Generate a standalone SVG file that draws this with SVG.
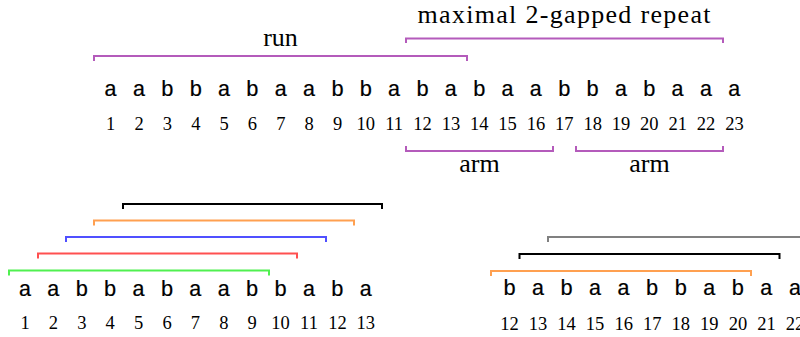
<svg xmlns="http://www.w3.org/2000/svg" width="800" height="337" viewBox="0 0 800 337">
<style>
.ch{font-family:"Liberation Mono","DejaVu Sans Mono",monospace;font-size:22px;fill:#000;stroke:#000;stroke-width:0.2;text-anchor:middle}
.nm{font-family:"Liberation Serif","DejaVu Serif",serif;font-size:18.5px;fill:#000;text-anchor:middle}
.lb{font-family:"Liberation Serif","DejaVu Serif",serif;font-size:26px;fill:#000;text-anchor:middle}
.br{fill:none;stroke-width:2}
.pu{stroke:#b45bbb}
</style>
<rect width="800" height="337" fill="#fff"/>
<g id="top-string">
<text class="ch" y="96"><tspan x="110.7">a</tspan><tspan x="139.05">a</tspan><tspan x="167.4">b</tspan><tspan x="195.75">b</tspan><tspan x="224.1">a</tspan><tspan x="252.45">b</tspan><tspan x="280.8">a</tspan><tspan x="309.15">a</tspan><tspan x="337.5">b</tspan><tspan x="365.85">b</tspan><tspan x="394.2">a</tspan><tspan x="422.55">b</tspan><tspan x="450.9">a</tspan><tspan x="479.25">b</tspan><tspan x="507.6">a</tspan><tspan x="535.95">a</tspan><tspan x="564.3">b</tspan><tspan x="592.65">b</tspan><tspan x="621">a</tspan><tspan x="649.35">b</tspan><tspan x="677.7">a</tspan><tspan x="706.05">a</tspan><tspan x="734.4">a</tspan></text>
<text class="nm" y="129.5"><tspan x="110.7">1</tspan><tspan x="139.05">2</tspan><tspan x="167.4">3</tspan><tspan x="195.75">4</tspan><tspan x="224.1">5</tspan><tspan x="252.45">6</tspan><tspan x="280.8">7</tspan><tspan x="309.15">8</tspan><tspan x="337.5">9</tspan><tspan x="365.85">10</tspan><tspan x="394.2">11</tspan><tspan x="422.55">12</tspan><tspan x="450.9">13</tspan><tspan x="479.25">14</tspan><tspan x="507.6">15</tspan><tspan x="535.95">16</tspan><tspan x="564.3">17</tspan><tspan x="592.65">18</tspan><tspan x="621">19</tspan><tspan x="649.35">20</tspan><tspan x="677.7">21</tspan><tspan x="706.05">22</tspan><tspan x="734.4">23</tspan></text>
</g>
<g id="run">
<path class="br pu" d="M94,61V56H467V61"/>
<text class="lb" x="280.5" y="46">run</text>
</g>
<g id="repeat">
<path class="br pu" d="M406,43V38.5H723V43"/>
<text class="lb" x="564" y="23" textLength="293" lengthAdjust="spacing">maximal 2-gapped repeat</text>
</g>
<g id="arm-left">
<path class="br pu" d="M406,146V151H553V146"/>
<text class="lb" x="479.5" y="172">arm</text>
</g>
<g id="arm-right">
<path class="br pu" d="M576,146V151H723V146"/>
<text class="lb" x="649.5" y="172">arm</text>
</g>
<g id="bottom-left-string">
<text class="ch" y="296"><tspan x="25">a</tspan><tspan x="53.4">a</tspan><tspan x="81.8">b</tspan><tspan x="110.2">b</tspan><tspan x="138.6">a</tspan><tspan x="167">b</tspan><tspan x="195.4">a</tspan><tspan x="223.8">a</tspan><tspan x="252.2">b</tspan><tspan x="280.6">b</tspan><tspan x="309">a</tspan><tspan x="337.4">b</tspan><tspan x="365.8">a</tspan></text>
<text class="nm" y="328.5"><tspan x="25">1</tspan><tspan x="53.4">2</tspan><tspan x="81.8">3</tspan><tspan x="110.2">4</tspan><tspan x="138.6">5</tspan><tspan x="167">6</tspan><tspan x="195.4">7</tspan><tspan x="223.8">8</tspan><tspan x="252.2">9</tspan><tspan x="280.6">10</tspan><tspan x="309">11</tspan><tspan x="337.4">12</tspan><tspan x="365.8">13</tspan></text>
</g>
<g id="bottom-left-brackets">
<path class="br" stroke="#50f050" d="M9,275.5V270.5H269V275.5"/>
<path class="br" stroke="#ff5050" d="M38,258.5V253.5H297V258.5"/>
<path class="br" stroke="#5050ff" d="M66,242V237H326V242"/>
<path class="br" stroke="#ffa050" d="M94,225.5V220.5H354V225.5"/>
<path class="br" stroke="#000" d="M123,209V204H382V209"/>
</g>
<g id="bottom-right-string">
<text class="ch" y="295"><tspan x="509.5">b</tspan><tspan x="538">a</tspan><tspan x="566.6">b</tspan><tspan x="595.1">a</tspan><tspan x="623.7">a</tspan><tspan x="652.2">b</tspan><tspan x="680.8">b</tspan><tspan x="709.3">a</tspan><tspan x="737.9">b</tspan><tspan x="766.4">a</tspan><tspan x="795">a</tspan></text>
<text class="nm" y="329.5"><tspan x="509.5">12</tspan><tspan x="538">13</tspan><tspan x="566.6">14</tspan><tspan x="595.1">15</tspan><tspan x="623.7">16</tspan><tspan x="652.2">17</tspan><tspan x="680.8">18</tspan><tspan x="709.3">19</tspan><tspan x="737.9">20</tspan><tspan x="766.4">21</tspan><tspan x="795">22</tspan></text>
</g>
<g id="bottom-right-brackets">
<path class="br" stroke="#ffa050" d="M491,276V271H751V276"/>
<path class="br" stroke="#000" d="M519.5,259V254H779.5V259"/>
<path class="br" stroke="#808080" d="M548,242V237H810"/>
</g>
</svg>
